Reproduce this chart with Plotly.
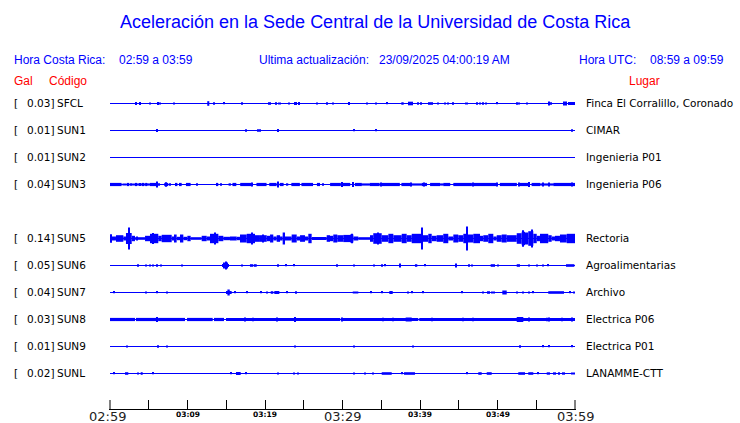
import plotly.graph_objects as go

# ---------------- data ----------------
codes = ["SFCL", "SUN1", "SUN2", "SUN3", "SUN5", "SUN6", "SUN7", "SUN8", "SUN9", "SUNL"]
gal = ["0.03", "0.01", "0.01", "0.04", "0.14", "0.05", "0.04", "0.03", "0.01", "0.02"]
places = ["Finca El Corralillo, Coronado", "CIMAR", "Ingenieria P01", "Ingenieria P06",
          "Rectoria", "Agroalimentarias", "Archivo", "Electrica P06", "Electrica P01",
          "LANAMME-CTT"]
slots = [0, 1, 2, 3, 5, 6, 7, 8, 9, 10]  # SUN4 slot is empty

tick_minutes = [0, 5, 10, 15, 20, 25, 30, 35, 40, 45, 50, 55, 60]
tick_labels = ["02:59", "", "03:09", "", "03:19", "", "03:29", "", "03:39", "", "03:49", "", "03:59"]
major_labels = ["02:59", "03:29", "03:59"]

# bursts: [start minute, end minute, half amplitude]  (minutes after 02:59)
sfcl = [[3.35, 3.35, 1.5], [3.87, 3.87, 1.5], [5.16, 5.16, 1], [6.23, 6.23, 1.5], [6.45, 6.45, 1],
        [8.26, 8.26, 1], [12.55, 12.81, 2.3], [13.42, 13.42, 1.2], [14.71, 14.71, 0.8],
        [17.03, 17.03, 1.3], [20.39, 20.77, 1.3], [21.29, 21.55, 1.3], [21.68, 22.06, 1],
        [23.10, 23.10, 1], [23.74, 24.13, 1.5], [24.39, 24.39, 1.5], [26.71, 26.71, 1],
        [28.0, 28.0, 1.3], [28.77, 28.77, 1], [30.71, 30.97, 1.5], [33.12, 33.12, 1],
        [34.28, 34.28, 1], [35.70, 35.70, 0.8], [37.64, 37.64, 1], [37.81, 37.81, 1],
        [38.45, 39.10, 1.8], [39.74, 39.74, 1.3], [40.13, 40.13, 1.3], [41.03, 41.68, 1.3],
        [42.32, 42.32, 1], [43.23, 43.23, 1], [43.61, 43.61, 1], [44.13, 44.39, 1.3],
        [45.81, 46.19, 1], [47.23, 47.48, 1.3], [47.74, 47.74, 1], [48.13, 48.13, 1.3],
        [48.52, 48.52, 1], [49.94, 49.94, 0.8], [52.52, 52.52, 1.3], [52.77, 52.77, 1],
        [53.81, 53.81, 1], [56.65, 56.65, 2], [56.90, 56.90, 1.3], [58.45, 58.97, 2],
        [59.10, 60.0, 1.5]]
sun1 = [[6.10, 6.10, 1.5], [17.59, 17.59, 1.3], [19.14, 19.14, 1.3], [19.39, 19.39, 1.3],
        [21.55, 21.77, 1.5], [31.52, 31.52, 0.8], [34.28, 34.28, 0.8], [59.65, 59.65, 1.3]]
sun2 = []
sun3 = [[0, 1.5, 1.6], [1.6, 2.1, 1.0], [2.15, 2.5, 1.6], [2.67, 2.67, 1.2], [2.8, 3.2, 1.0],
        [3.2, 3.5, 1.6], [3.78, 3.96, 1.6], [3.5, 5.2, 1.1],
        [4.17, 4.39, 1.6], [4.55, 4.81, 1.6], [5.16, 6.10, 1.6], [6.10, 6.10, 3], [6.36, 6.36, 1.2],
        [7.0, 7.52, 1.6], [7.18, 7.18, 2.2], [7.74, 7.74, 1.2], [8.5, 8.7, 1.6], [8.9, 9.25, 1.6],
        [9.8, 10.4, 1.6], [11.2, 11.2, 1.2], [13.68, 13.97, 1.6], [14.28, 14.28, 1.2],
        [15.3, 15.6, 1.2], [15.8, 16.3, 1.6], [16.8, 18.3, 1.6], [18.28, 18.28, 2],
        [18.9, 20.2, 1.6], [20.55, 21.5, 1.6], [21.63, 21.63, 3], [21.9, 22.4, 1.6],
        [22.8, 23.0, 1.2], [23.4, 24.5, 1.6], [24.7, 26.2, 1.6], [26.7, 27.1, 1.6], [27.5, 27.5, 1.2],
        [28.4, 29.7, 1.6], [29.9, 29.9, 2.5], [29.7, 31.0, 1.6], [31.4, 31.4, 2.5],
        [31.6, 32.5, 1.6], [32.5, 33.5, 1.1], [33.5, 34.8, 1.6], [35.0, 35.0, 2], [35.0, 37.4, 1.6],
        [37.6, 38.9, 1.6], [38.8, 38.8, 2], [38.9, 40.2, 1.1], [40.2, 40.9, 1.6], [40.5, 40.5, 2],
        [41.3, 42.6, 1.6], [42.6, 43.0, 1.1],
        [43.0, 43.9, 1.6], [44.3, 46.7, 1.6], [46.8, 46.8, 2], [46.9, 49.9, 1.6], [49.9, 49.9, 2],
        [50.3, 52.5, 1.6], [52.8, 52.8, 2], [52.9, 54.0, 1.6], [54.1, 54.1, 2.5],
        [54.4, 55.5, 1.6], [55.9, 55.9, 2], [55.5, 57.2, 1.1], [56.7, 56.7, 2], [57.2, 60.0, 1.6],
        [59.6, 59.6, 2]]
sun5 = [[0, 0.22, 4.3], [0.22, 0.77, 2], [0.77, 1.72, 3.3], [1.72, 2.06, 2], [2.06, 2.8, 5.5],
        [2.5, 2.5, 11], [2.8, 3.23, 2.7], [3.23, 4.52, 1.3], [3.44, 3.44, 2], [4.52, 5.16, 2.7],
        [5.16, 6.23, 4.7], [5.59, 5.59, 5.5], [6.23, 6.67, 2.7], [6.67, 7.96, 3.7],
        [7.96, 8.26, 2], [8.26, 8.6, 4], [8.6, 9.03, 1.7], [9.03, 9.46, 4], [9.46, 9.98, 1.7],
        [9.98, 10.41, 2.7], [10.41, 11.83, 1.3], [11.83, 12.47, 2.7], [12.47, 12.9, 2],
        [12.9, 13.98, 4.7], [13.55, 13.55, 6], [13.98, 14.62, 2.7], [14.62, 15.48, 1.7],
        [15.48, 16.34, 2], [16.34, 16.77, 1.7], [16.77, 17.64, 4], [17.64, 18.71, 4.7],
        [18.37, 18.37, 6], [18.71, 19.35, 3.3], [19.35, 20.22, 3.3], [19.78, 19.78, 4],
        [20.22, 20.65, 2.7], [20.65, 21.07, 4], [21.07, 21.51, 2], [21.51, 21.94, 3.3],
        [21.94, 22.28, 2], [22.28, 22.58, 6], [22.58, 23.44, 2], [23.44, 24.09, 4],
        [24.09, 24.52, 2], [24.52, 25.16, 3.3], [25.16, 25.59, 2], [25.59, 26.02, 4.7],
        [26.02, 27.96, 1.5], [27.96, 28.39, 3.3], [28.39, 28.81, 2.7], [28.81, 29.33, 4],
        [29.33, 30.1, 3.3], [30.1, 30.97, 3.6], [30.97, 31.4, 4], [31.18, 31.18, 4.7],
        [31.4, 32.04, 2], [32.04, 33.55, 1.3], [33.55, 33.97, 3.3], [33.97, 35.06, 5.3],
        [34.62, 34.62, 6], [35.06, 35.92, 3.3], [35.92, 36.56, 4.7], [36.56, 37.64, 3.3],
        [37.64, 38.28, 4.7], [38.28, 38.93, 3.3], [38.93, 40.22, 4.7], [40.22, 40.22, 11],
        [40.22, 41.07, 3.3], [41.07, 41.51, 4.7], [41.51, 42.15, 2.7], [42.15, 43.0, 3.3],
        [43.0, 43.65, 4.7], [43.65, 44.3, 2], [44.3, 44.94, 4], [44.94, 45.59, 3.3],
        [45.59, 46.03, 4.7], [46.03, 46.03, 12], [46.03, 46.88, 4], [46.88, 47.74, 4.7],
        [47.74, 48.17, 2.7], [48.17, 48.81, 3.3], [48.81, 49.46, 4.7], [49.46, 49.9, 2],
        [49.9, 50.54, 3.3], [50.54, 51.19, 4], [51.19, 52.48, 3.3], [52.48, 53.12, 5.3],
        [53.12, 53.55, 6.7], [53.33, 53.33, 8.3], [53.55, 53.97, 6], [53.97, 54.62, 7.3],
        [54.41, 54.41, 9], [54.62, 55.06, 4.7], [55.06, 55.48, 2.7], [55.48, 56.55, 4.7],
        [56.55, 56.99, 3.3], [56.99, 57.42, 2], [57.42, 58.06, 2.7], [58.06, 58.93, 4],
        [58.93, 60.0, 4.7]]
sun6 = [[3.65, 3.65, 1.3], [4.65, 4.65, 1], [5.16, 5.16, 1], [5.59, 5.59, 1], [5.94, 6.10, 1.3],
        [6.58, 6.58, 1], [9.25, 9.25, 1], [14.6, 14.7, 1.5], [14.7, 14.84, 3], [14.84, 15.1, 4],
        [15.1, 15.22, 3], [15.22, 15.35, 1.5], [16.99, 16.99, 1], [18.06, 18.49, 1.3],
        [18.58, 18.93, 1.3], [21.64, 21.64, 1.3], [22.71, 22.71, 0.8], [23.78, 23.78, 0.8],
        [29.25, 29.25, 1.3], [31.48, 31.48, 1], [34.06, 34.06, 1], [35.06, 35.06, 1.3],
        [35.48, 35.48, 0.8], [37.33, 37.42, 2], [39.35, 39.65, 1.3], [40.65, 40.65, 0.8],
        [44.52, 44.74, 2], [46.23, 46.45, 1.3], [46.67, 46.67, 1], [49.12, 49.68, 1.3],
        [50.10, 50.10, 1], [52.48, 52.90, 1.3], [54.10, 54.10, 1], [55.14, 55.14, 1],
        [55.83, 55.83, 1], [56.55, 56.55, 0.8], [58.84, 59.91, 1.3]]
sun7 = [[0.55, 0.55, 0.8], [4.65, 4.65, 1], [6.10, 6.10, 0.8], [7.32, 7.32, 1],
        [14.97, 15.15, 1.5], [15.15, 15.45, 3], [15.45, 15.70, 1.5], [16.13, 16.13, 0.8],
        [17.64, 17.64, 0.8], [19.45, 19.45, 0.8], [20.22, 20.22, 1], [20.74, 21.07, 1.3],
        [21.20, 21.85, 1.5], [22.80, 22.80, 0.8], [24.0, 24.0, 1.3], [31.32, 32.04, 1],
        [33.64, 33.64, 0.8], [35.14, 35.14, 0.8], [36.04, 36.48, 1.5], [38.49, 38.49, 1],
        [38.93, 38.93, 0.8], [40.35, 40.35, 0.8], [45.38, 45.38, 0.8], [48.17, 48.17, 1],
        [48.65, 49.03, 1.3], [49.29, 49.29, 1], [49.55, 49.55, 1], [50.62, 51.19, 2],
        [52.48, 52.48, 1], [53.33, 53.33, 1], [54.10, 54.10, 1], [54.62, 54.62, 0.8],
        [56.55, 58.58, 1.3], [59.35, 59.35, 0.8], [59.91, 59.91, 1]]
sun8 = [[0, 3.23, 1.6], [3.35, 6.03, 1.6], [6.2, 9.68, 1.6], [9.94, 13.25, 1.6],
        [13.42, 14.71, 1.6], [14.97, 29.68, 1.6], [29.77, 39.78, 1.6], [39.9, 60.0, 1.6],
        [6.10, 6.10, 2.5], [17.42, 17.42, 2], [18.49, 18.49, 1.8], [21.59, 21.59, 2],
        [23.78, 24.0, 2.5], [29.97, 29.97, 2], [35.17, 35.17, 1.8], [36.55, 36.55, 1.8],
        [38.15, 38.93, 2], [41.59, 41.59, 1.8], [45.59, 45.59, 1.8], [46.8, 46.8, 1.8],
        [52.48, 53.33, 2.5], [54.10, 54.10, 2], [56.35, 56.35, 1.8], [56.65, 56.65, 2],
        [58.28, 58.28, 1.8], [59.57, 59.57, 2]]
sun9 = [[2.23, 2.23, 1], [6.14, 6.28, 1.3], [7.32, 7.32, 1], [23.78, 23.91, 1], [31.52, 31.52, 1],
        [39.06, 39.06, 1], [52.81, 52.90, 1.3], [55.91, 55.91, 0.8], [56.68, 56.68, 0.8],
        [59.65, 59.65, 0.8]]
sunl = [[0.55, 0.55, 0.8], [1.94, 2.36, 1.3], [3.65, 3.65, 1], [3.96, 4.22, 1.3], [5.59, 5.59, 0.8],
        [15.57, 15.57, 0.8], [16.26, 16.86, 1.5], [17.51, 17.51, 0.8], [21.72, 21.72, 1],
        [23.78, 23.78, 1], [24.30, 24.30, 1], [31.48, 31.48, 1], [32.81, 33.03, 1],
        [33.97, 33.97, 1], [35.06, 36.35, 1.3], [37.64, 37.64, 0.8], [37.94, 39.35, 1.3],
        [46.03, 46.03, 0.8], [47.52, 47.96, 1.3], [48.61, 49.25, 1.3], [52.68, 53.55, 1.3],
        [53.97, 54.62, 1.3], [55.26, 55.26, 0.8], [56.35, 56.77, 1.2], [57.16, 57.55, 1.2],
        [57.81, 58.06, 1.2], [58.32, 58.71, 1.2], [59.57, 59.57, 1], [59.91, 59.91, 1]]
bursts = [sfcl, sun1, sun2, sun3, sun5, sun6, sun7, sun8, sun9, sunl]

# ---------------- layout constants ----------------
W, H = 740, 423
L, R, T, B = 109, 576, 76, 409
PXMIN = 7.75           # pixels per minute
EXT = 1 / PXMIN        # one pixel of slack on each side
ROW = 27
TICKLEN = 9
BLUE = "#0000ff"
RED = "#ff0000"
PAD = 3  # annotation box padding
Y_BOTTOM = (B - T) - ROW - 0.5
Y_TOP = -ROW - 0.5


def px2x(px):
    return (px - L) / (R - L)


def py2y(py):
    return (B - py) / (B - T)


fig = go.Figure()
for slot, ev in zip(slots, bursts):
    yc = slot * ROW
    fig.add_trace(go.Scatter(x=[0, 60], y=[yc, yc], mode="lines",
                             line=dict(color=BLUE, width=1), hoverinfo="skip",
                             showlegend=False))
    if ev:
        xs = [(a + b) / 2 for a, b, _ in ev]
        ws = [max(b - a, 0.14) for a, b, _ in ev]
        bases = [yc - amp for _, _, amp in ev]
        hs = [2 * amp for _, _, amp in ev]
        fig.add_trace(go.Bar(x=xs, y=hs, base=bases, width=ws,
                             marker=dict(color=BLUE, line=dict(width=0)),
                             showlegend=False, hoverinfo="skip"))

# end ticks of the time axis (plotly omits ticks sitting on the plot edges)
t0, t1 = tick_minutes[0], tick_minutes[-1]
fig.add_trace(go.Scatter(x=[t0, t0, None, t1, t1],
                         y=[Y_BOTTOM, Y_BOTTOM - TICKLEN, None, Y_BOTTOM, Y_BOTTOM - TICKLEN],
                         mode="lines", line=dict(color="black", width=1),
                         cliponaxis=False, hoverinfo="skip", showlegend=False))

ann = []
head_font = dict(family="Liberation Sans, Arial", size=12, color=BLUE)
ann.append(dict(text="Aceleración en la Sede Central de la Universidad de Costa Rica",
                x=px2x(375), y=py2y(22), xanchor="center", yanchor="middle",
                font=dict(family="Liberation Sans, Arial", size=18, color=BLUE)))
for txt, px in [("Hora Costa Rica:", 15), ("02:59 a 03:59", 120),
                ("Ultima actualización:", 260), ("23/09/2025 04:00:19 AM", 380),
                ("Hora UTC:", 580), ("08:59 a 09:59", 651)]:
    ann.append(dict(text=txt, x=px2x(px - PAD), y=py2y(60), xanchor="left", yanchor="middle",
                    font=head_font))
red_font = dict(family="Liberation Sans, Arial", size=12, color=RED)
for txt, px in [("Gal", 15), ("Código", 50), ("Lugar", 630)]:
    ann.append(dict(text=txt, x=px2x(px - PAD), y=py2y(81), xanchor="left", yanchor="middle",
                    font=red_font))

lab_font = dict(family="DejaVu Sans", size=10.5, color="black")
for slot, c, g, p in zip(slots, codes, gal, places):
    py = 76 + ROW + slot * ROW
    ann.append(dict(text="[", x=px2x(15 - PAD), y=py2y(py), xanchor="left", yanchor="middle", font=lab_font))
    ann.append(dict(text=g + "]", x=px2x(56), y=py2y(py), xanchor="right", yanchor="middle", font=lab_font))
    ann.append(dict(text=c, x=px2x(58 - PAD), y=py2y(py), xanchor="left", yanchor="middle", font=lab_font))
    ann.append(dict(text=p, x=px2x(587 - PAD), y=py2y(py), xanchor="left", yanchor="middle", font=lab_font))

for m, lab in zip(tick_minutes, tick_labels):
    if not lab:
        continue
    big = lab in major_labels
    ann.append(dict(text=lab, x=m, xref="x", y=py2y(417 if big else 414), yref="paper",
                    xanchor="center", yanchor="middle", xshift=-3 if m == 0 else 0,
                    font=dict(family="DejaVu Sans", size=13 if big else 7.5,
                              color="#222222" if big else "black",
                              weight="normal" if big else "bold")))
for a in ann:
    a.setdefault("xref", "paper")
    a.setdefault("yref", "paper")
    a["showarrow"] = False

fig.update_layout(
    width=W, height=H, margin=dict(l=L, r=W - R, t=T, b=H - B),
    paper_bgcolor="white", plot_bgcolor="white", barmode="overlay",
    annotations=ann, showlegend=False,
    xaxis=dict(range=[-EXT, 60 + EXT], tickvals=tick_minutes, showticklabels=False,
               ticks="inside", ticklen=TICKLEN, tickcolor="black", tickwidth=1,
               showline=True, linecolor="black", linewidth=1, showgrid=False,
               zeroline=False, fixedrange=True),
    yaxis=dict(range=[Y_BOTTOM, Y_TOP], visible=False, showgrid=False,
               zeroline=False, fixedrange=True),
)
fig.write_html("out.html", config={"displayModeBar": False},
               post_script="document.body.style.margin='0';document.body.style.padding='0';")
